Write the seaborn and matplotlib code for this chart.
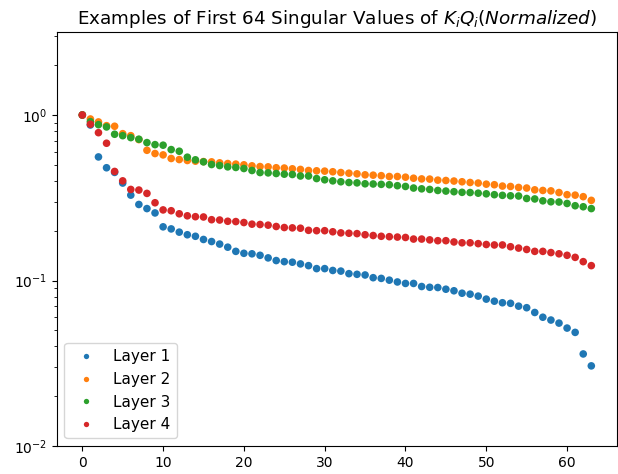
import numpy as np
import pandas as pd
import seaborn as sns
import matplotlib
import matplotlib.pyplot as plt

matplotlib.use('Agg')

# singular values (normalized), index 0..63
layer1 = [1.0, 0.87, 0.558, 0.48, 0.45, 0.388, 0.328, 0.288, 0.272, 0.256,
          0.211, 0.205, 0.196, 0.189, 0.185, 0.177, 0.172, 0.166, 0.159, 0.150,
          0.146, 0.145, 0.142, 0.137, 0.132, 0.130, 0.129, 0.126, 0.123, 0.118,
          0.118, 0.115, 0.114, 0.110, 0.109, 0.108, 0.104, 0.103, 0.1005, 0.098,
          0.096, 0.096, 0.092, 0.091, 0.0907, 0.0886, 0.0867, 0.0838, 0.0827, 0.0805,
          0.0772, 0.075, 0.0734, 0.0728, 0.070, 0.0685, 0.0641, 0.060, 0.0577, 0.0553,
          0.0516, 0.0486, 0.036, 0.0305]
layer2 = [1.0, 0.946, 0.908, 0.862, 0.855, 0.771, 0.750, 0.710, 0.612, 0.585,
          0.574, 0.546, 0.538, 0.531, 0.526, 0.523, 0.521, 0.514, 0.509, 0.505,
          0.5, 0.493, 0.488, 0.486, 0.48, 0.478, 0.473, 0.469, 0.462, 0.46,
          0.458, 0.454, 0.449, 0.445, 0.441, 0.435, 0.433, 0.43, 0.425, 0.425,
          0.421, 0.415, 0.411, 0.41, 0.404, 0.402, 0.399, 0.395, 0.391, 0.388,
          0.382, 0.379, 0.372, 0.37, 0.365, 0.362, 0.353, 0.35, 0.348, 0.34,
          0.33, 0.328, 0.321, 0.305]
layer3 = [1.0, 0.911, 0.874, 0.847, 0.765, 0.750, 0.730, 0.714, 0.681, 0.662,
          0.657, 0.618, 0.604, 0.556, 0.536, 0.521, 0.502, 0.495, 0.486, 0.482,
          0.475, 0.462, 0.449, 0.447, 0.443, 0.439, 0.437, 0.428, 0.428, 0.413,
          0.406, 0.40, 0.395, 0.391, 0.389, 0.384, 0.383, 0.381, 0.379, 0.374,
          0.37, 0.362, 0.358, 0.355, 0.35, 0.347, 0.344, 0.341, 0.34, 0.337,
          0.334, 0.33, 0.327, 0.325, 0.324, 0.313, 0.311, 0.303, 0.299, 0.298,
          0.292, 0.283, 0.279, 0.272]
layer4 = [1.0, 0.879, 0.782, 0.675, 0.456, 0.40, 0.355, 0.352, 0.336, 0.295,
          0.267, 0.264, 0.253, 0.246, 0.243, 0.242, 0.233, 0.232, 0.228, 0.227,
          0.224, 0.219, 0.218, 0.216, 0.212, 0.209, 0.208, 0.207, 0.201, 0.2,
          0.2, 0.197, 0.194, 0.193, 0.192, 0.189, 0.187, 0.185, 0.184, 0.183,
          0.182, 0.178, 0.178, 0.176, 0.174, 0.174, 0.171, 0.169, 0.169, 0.167,
          0.165, 0.164, 0.164, 0.160, 0.157, 0.154, 0.150, 0.150, 0.1475, 0.145,
          0.142, 0.138, 0.130, 0.123]
layer_names = ['Layer 1', 'Layer 2', 'Layer 3', 'Layer 4']

frames = []
for name, vals in zip(layer_names, [layer1, layer2, layer3, layer4]):
    frames.append(pd.DataFrame({'idx': np.arange(len(vals)), 'sv': vals, 'layer': name}))
df = pd.concat(frames, ignore_index=True)

fig = plt.figure(figsize=(6.18, 4.74), dpi=100)
ax = fig.add_axes([0.092, 0.059, 0.906, 0.873])
sns.scatterplot(data=df, x='idx', y='sv', hue='layer', palette='tab10',
                s=30, linewidth=0, ax=ax)
ax.set_yscale('log')
ax.set_ylim(0.01, 10 ** 0.5)
ax.set_xlabel('')
ax.set_ylabel('')
ax.set_title(r'Examples of First 64 Singular Values of $K_iQ_i(Normalized)$', fontsize=13.2)
sns.move_legend(ax, 'lower left', title=None, markerscale=0.7, fontsize=11)

plt.savefig('out.png', dpi=100)
plt.close()
